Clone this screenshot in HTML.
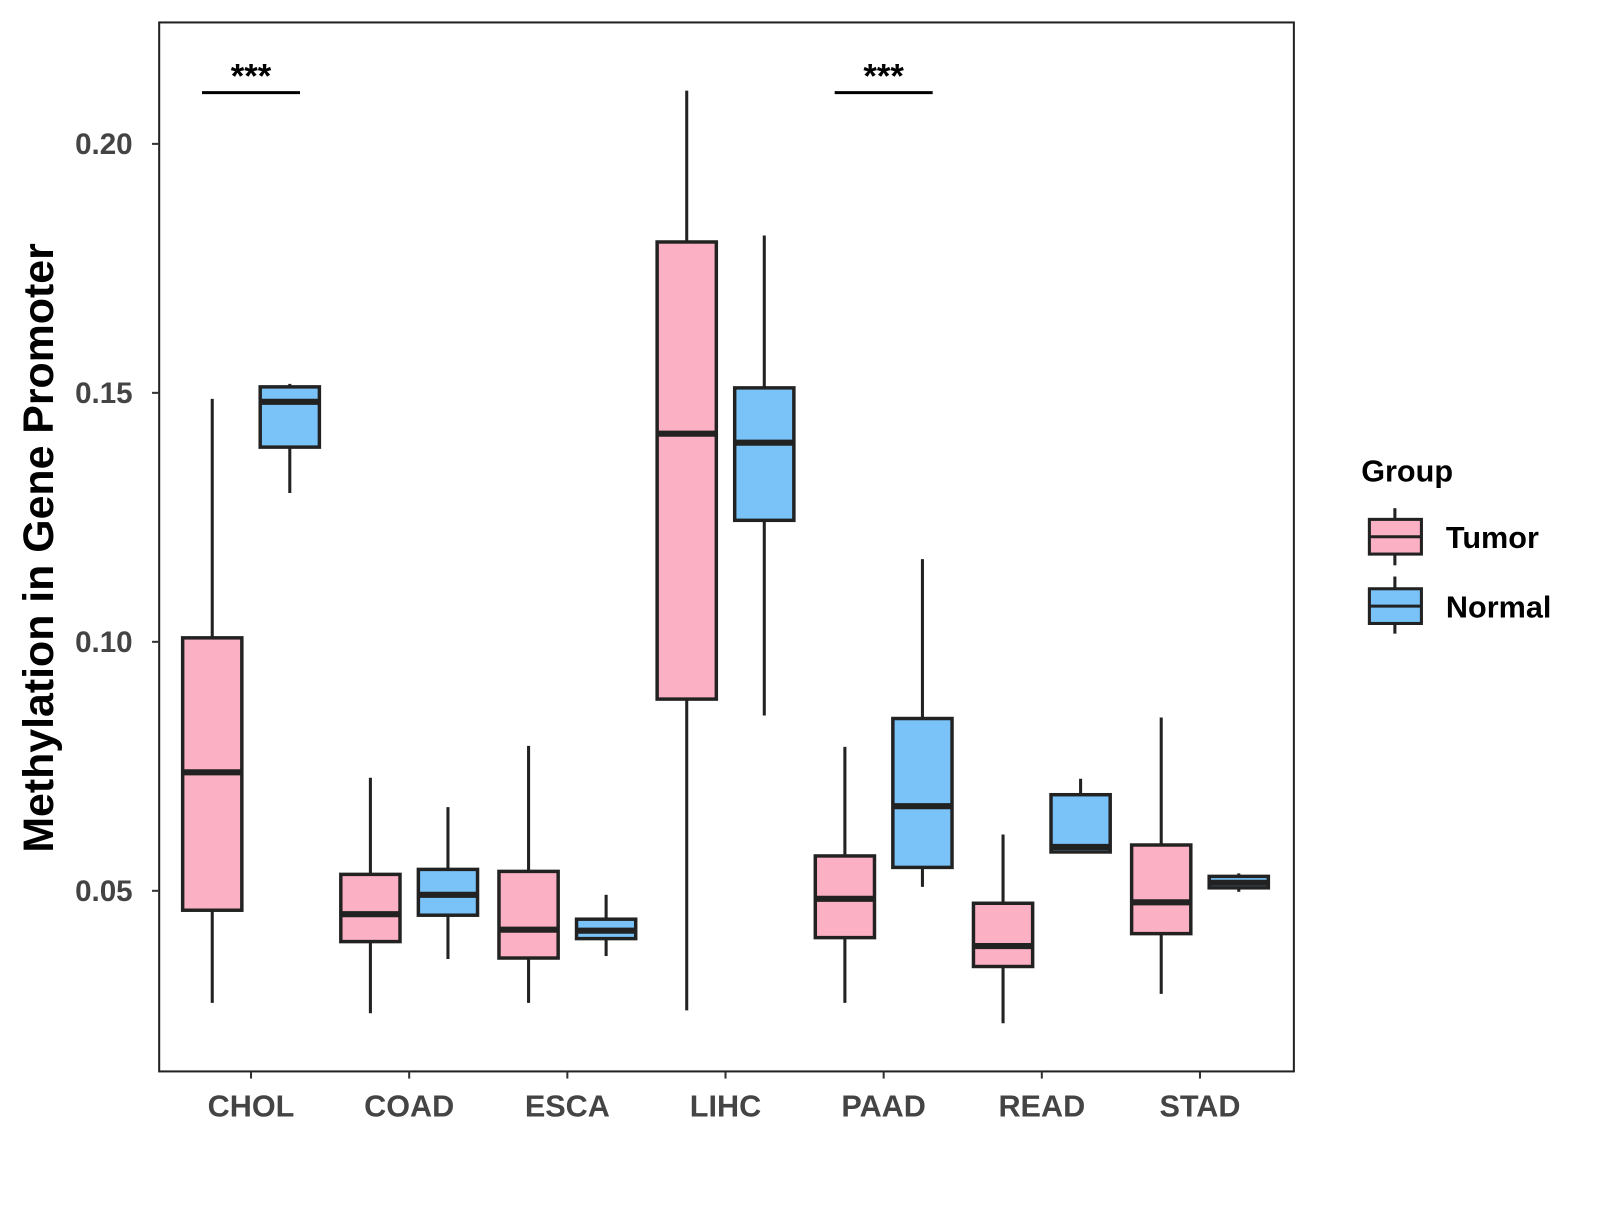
<!DOCTYPE html>
<html><head><meta charset="utf-8"><style>
body{margin:0;background:#fff;width:1600px;height:1200px;overflow:hidden}
svg text{font-family:"Liberation Sans",Arial,sans-serif;font-weight:bold}
</style></head><body>
<svg id="chart" width="1600" height="1200">
<g transform="scale(1.0204)">
<rect x="156" y="22" width="1112" height="1028" fill="#fff" stroke="#222" stroke-width="2"/>
<g id="marks"></g>
<text x="0" y="0" transform="translate(52,537) rotate(-90)" text-anchor="middle" font-size="42" fill="#000">Methylation in Gene Promoter</text>
<g>
<text x="1334" y="472" font-size="30" fill="#000">Group</text>
<g>
<line x1="1367" y1="498" x2="1367" y2="554" stroke="#222" stroke-width="3"/>
<rect x="1342" y="509" width="51" height="34" fill="#FBB0C3" stroke="#222" stroke-width="3"/>
<line x1="1342" y1="526" x2="1393" y2="526" stroke="#222" stroke-width="3"/>
<text x="1417" y="537" font-size="30" fill="#000">Tumor</text></g>
<g>
<line x1="1367" y1="565" x2="1367" y2="621" stroke="#222" stroke-width="3"/>
<rect x="1342" y="577" width="51" height="34" fill="#79C3F9" stroke="#222" stroke-width="3"/>
<line x1="1342" y1="594" x2="1393" y2="594" stroke="#222" stroke-width="3"/>
<text x="1417" y="605" font-size="30" fill="#000">Normal</text></g>
</g>
</g>
</svg>
<script>
const categories=["CHOL","COAD","ESCA","LIHC","PAAD","READ","STAD"];
const tumorStats=[[0.0275,0.0461,0.0738,0.1008,0.1488],[0.0254,0.0398,0.0453,0.0533,0.0727],[0.0275,0.0365,0.0422,0.0539,0.0791],[0.0260,0.0885,0.1418,0.1803,0.2107],[0.0275,0.0406,0.0484,0.0570,0.0789],[0.0234,0.0348,0.0389,0.0475,0.0613],[0.0293,0.0414,0.0477,0.0592,0.0848]];
const normalStats=[[0.1299,0.1391,0.1482,0.1512,0.1518],[0.0363,0.0451,0.0492,0.0543,0.0668],[0.0369,0.0404,0.0420,0.0443,0.0492],[0.0852,0.1244,0.1400,0.1510,0.1816],[0.0508,0.0547,0.0670,0.0846,0.1166],[0.0578,0.0578,0.0588,0.0693,0.0725],[0.0498,0.0506,0.0516,0.0529,0.0535]];
const yTicks=[0.05,0.10,0.15,0.20];
const yTickLabels=["0.05","0.10","0.15","0.20"];
const sigCategories=["CHOL","PAAD"];
const sigLabels=["***","***"];
const sigLevel=0.2107;

const NS="http://www.w3.org/2000/svg";
const g=document.getElementById('marks');
const y=v=>873-(v-0.05)*4880;
const x=i=>246+i*155;
function mk(tag,attrs,parent){const e=document.createElementNS(NS,tag);for(const k in attrs)e.setAttribute(k,attrs[k]);(parent||g).appendChild(e);return e;}

yTicks.forEach((t,i)=>{
  const l=mk('line',{x1:149,x2:156,y1:y(t),y2:y(t),stroke:'#333','stroke-width':2});
  
  
  const tx=mk('text',{x:130,y:y(t)+10,'text-anchor':'end','font-size':29,fill:'#444'});
  tx.textContent=yTickLabels[i];
  
  
});
categories.forEach((c,i)=>{
  const l=mk('line',{x1:x(i),x2:x(i),y1:1050,y2:1057,stroke:'#333','stroke-width':2});
  
  
  const tx=mk('text',{x:x(i),y:1094,'text-anchor':'middle','font-size':30,fill:'#444'});
  tx.textContent=c;
  
  
});
function box(cx,s,fill,name){
  const grp=mk('g',{});
  
  
  mk('line',{x1:cx,x2:cx,y1:y(s[0]),y2:y(s[4]),stroke:'#222','stroke-width':3},grp);
  mk('rect',{x:cx-29,y:y(s[3]),width:58,height:Math.max(1,y(s[1])-y(s[3])),fill:fill,stroke:'#222','stroke-width':3.4},grp);
  mk('line',{x1:cx-29,x2:cx+29,y1:y(s[2]),y2:y(s[2]),stroke:'#222','stroke-width':6},grp);
}
categories.forEach((c,i)=>{
  box(x(i)-38,tumorStats[i],'#FBB0C3','box-'+c.toLowerCase()+'-tumor');
  box(x(i)+38,normalStats[i],'#79C3F9','box-'+c.toLowerCase()+'-normal');
});
sigCategories.forEach((c,k)=>{
  const i=categories.indexOf(c);
  const l=mk('line',{x1:x(i)-48,x2:x(i)+48,y1:y(sigLevel)+2,y2:y(sigLevel)+2,stroke:'#000','stroke-width':3});
  
  
  const tx=mk('text',{x:x(i),y:y(sigLevel)-3,'text-anchor':'middle','font-size':34,fill:'#000'});
  tx.textContent=sigLabels[k];
  
  
});
</script>
</body></html>
